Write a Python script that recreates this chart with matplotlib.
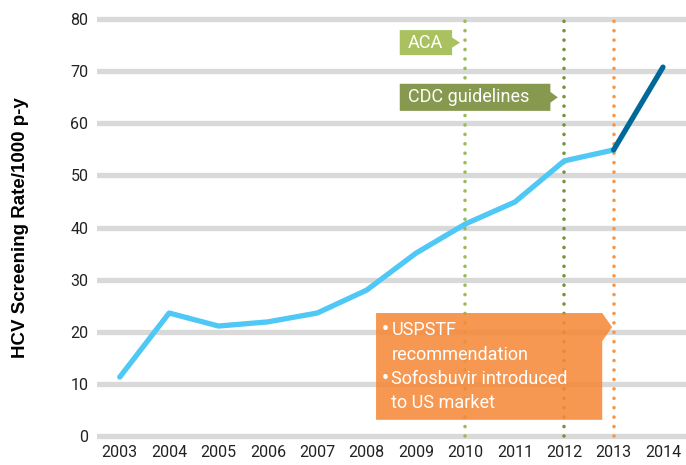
import numpy as np
import matplotlib.pyplot as plt
from matplotlib.patches import Polygon

years = [2003, 2004, 2005, 2006, 2007, 2008, 2009, 2010, 2011, 2012, 2013, 2014]
rate = [11.3, 23.6, 21.1, 21.9, 23.6, 28.0, 35.1, 40.7, 44.9, 52.8, 54.9, 70.8]
yticks = [0, 10, 20, 30, 40, 50, 60, 70, 80]

# event markers: year, colour
events = [(2010, '#9bbb59'), (2012, '#76923c'), (2013, '#f79646')]

plt.rcParams['font.family'] = ['Roboto', 'DejaVu Sans']

fig = plt.figure(figsize=(6.86, 4.65), dpi=100)
ax = fig.add_axes([0.141, 0.0512, 0.859, 0.9188])
ax.set_xlim(2002.534, 2014.466)
ax.set_ylim(-1, 81)

for t in yticks:
    ax.axhline(t, color='#d9d9d9', lw=3.8, zorder=1)

for yr, c in events:
    ax.plot([yr, yr], [0, 80], color=c, lw=2.6, linestyle=(0, (0.01, 2.6)),
            dash_capstyle='round', zorder=2)

ax.plot(years[:-1], rate[:-1], color='#4fc8f5', lw=3.8, solid_capstyle='round', zorder=4)
ax.plot(years[-2:], rate[-2:], color='#00699a', lw=3.8, solid_capstyle='round', zorder=4)


def tag(x0, x1, tip, y0, y1, color, text):
    ym = (y0 + y1) / 2
    pts = [(x0, y0), (x1, y0), (x1, y0 + (y1 - y0) * 0.3), (tip, ym),
           (x1, y1 - (y1 - y0) * 0.3), (x1, y1), (x0, y1)]
    ax.add_patch(Polygon(pts, closed=True, fc=color, ec='none', zorder=3))
    ax.text(x0 + 0.16, ym, text, color='white', fontsize=13, va='center', ha='left', zorder=5)


tag(2008.67, 2009.73, 2009.89, 73.1, 77.9, '#a9c15f', 'ACA')
tag(2008.67, 2011.72, 2011.87, 62.4, 67.6, '#86994f', 'CDC guidelines')

# orange callout with tab on top right
bx0, bx1, by0, by1 = 2008.19, 2012.77, 3.1, 23.6
tab = 2012.97
pts = [(bx0, by0), (bx1, by0), (bx1, 18.2), (tab, 20.9), (bx1, by1), (bx0, by1)]
ax.add_patch(Polygon(pts, closed=True, fc='#f58a3a', ec='none', alpha=0.88, zorder=3))
notes = [('\u2022', 'USPSTF', 20.3), ('', 'recommendation', 15.6),
         ('\u2022', 'Sofosbuvir introduced', 10.9), ('', 'to US market', 6.3)]
for b, s, yy in notes:
    if b:
        ax.text(2008.30, yy, b, color='white', fontsize=14, fontweight='bold',
                va='center', ha='left', zorder=5)
    ax.text(2008.50, yy, s, color='white', fontsize=13, va='center', ha='left', zorder=5)

ax.set_xticks(years)
ax.set_yticks(yticks)
ax.tick_params(length=0, labelsize=11.5, colors='#222222', pad=6)
ax.tick_params(axis='x', pad=3)
for s in ax.spines.values():
    s.set_visible(False)

ax.set_ylabel('HCV Screening Rate/1000 p-y', fontsize=13.5, fontweight='bold',
              family='Liberation Sans', labelpad=30)

fig.savefig('out.png', dpi=100)
